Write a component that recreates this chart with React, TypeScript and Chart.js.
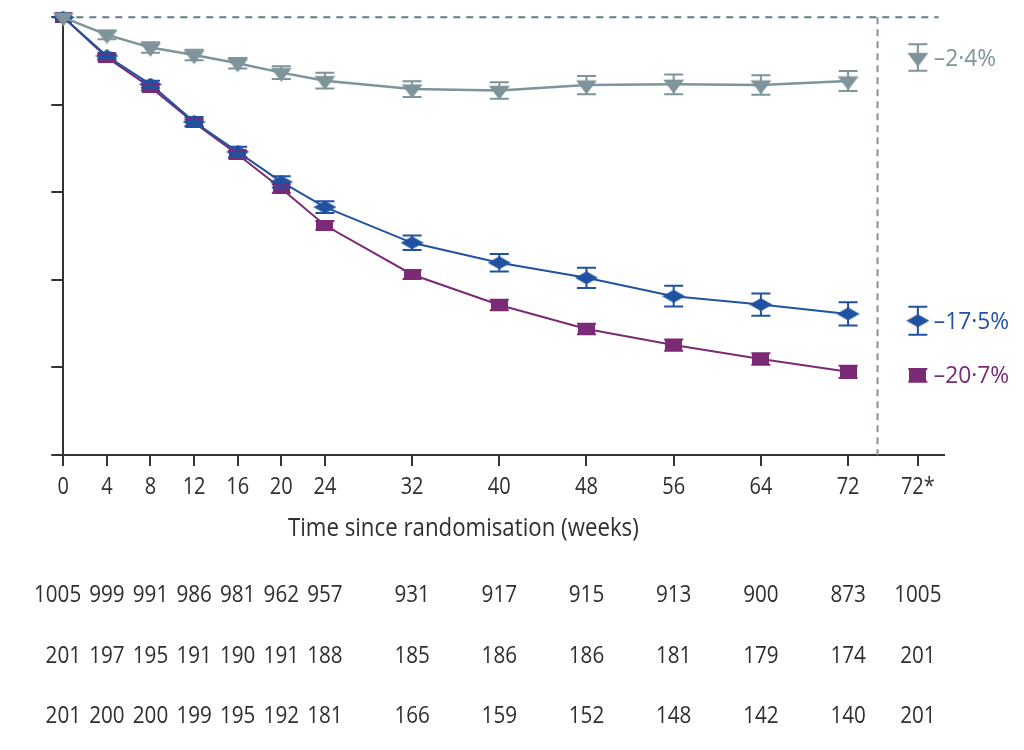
import { useEffect, useRef } from "react";
import { Chart, registerables } from "chart.js";

Chart.register(...registerables);

// ---- data ----
const weeks = [0, 4, 8, 12, 16, 20, 24, 32, 40, 48, 56, 64, 72];
const tickWeeks = [0, 4, 8, 12, 16, 20, 24, 32, 40, 48, 56, 64, 72, 78.4];
const tickLabels = ["0", "4", "8", "12", "16", "20", "24", "32", "40", "48", "56", "64", "72", "72*"];
const endWeek = 78.4;
const cutoffWeek = 74.7;

const placeboValues = [0, -1.0, -1.73, -2.15, -2.62, -3.16, -3.62, -4.1, -4.18, -3.87, -3.83, -3.87, -3.64];
const placeboErrors = [0, 0.25, 0.3, 0.3, 0.3, 0.37, 0.45, 0.45, 0.47, 0.52, 0.56, 0.56, 0.57];
const blueValues = [0, -2.21, -3.83, -5.97, -7.69, -9.4, -10.84, -12.88, -14.02, -14.88, -15.93, -16.41, -16.94];
const blueErrors = [0, 0.15, 0.2, 0.27, 0.29, 0.32, 0.34, 0.41, 0.5, 0.58, 0.59, 0.63, 0.67];
const purpleValues = [0, -2.29, -4.0, -6.02, -7.84, -9.78, -11.88, -14.69, -16.43, -17.8, -18.72, -19.52, -20.25];
const purpleErrors = [0, 0.15, 0.18, 0.2, 0.22, 0.24, 0.25, 0.26, 0.3, 0.3, 0.32, 0.33, 0.35];

const endValues = [-2.3, -17.33, -20.45];
const endErrors = [0.76, 0.8, 0.36];
const endLabels = ["\u20132\u00b74%", "\u201317\u00b75%", "\u201320\u00b77%"];

const atRiskRow1 = [1005, 999, 991, 986, 981, 962, 957, 931, 917, 915, 913, 900, 873, 1005];
const atRiskRow2 = [201, 197, 195, 191, 190, 191, 188, 185, 186, 186, 181, 179, 174, 201];
const atRiskRow3 = [201, 200, 200, 199, 195, 192, 181, 166, 159, 152, 148, 142, 140, 201];

const xTitle = "Time since randomisation (weeks)";
const xTitleCenterWeek = 36.7;

// ---- styles ----
const GRAY = "#7e949a";
const BLUE = "#2152a1";
const PURPLE = "#7b2a76";
const DASH = "#627a83";
const AXIS = "#333333";
const TEXT = "#2f2f2f";
const FONT = "'Open Sans', 'Noto Sans', sans-serif";

function makeCanvas(w: number, h: number) {
  const c = document.createElement("canvas");
  c.width = w;
  c.height = h;
  return c;
}

function triangleImg(color: string) {
  const w = 21, h = 14;
  const H = Math.ceil((4 * h) / 3) + 2;
  const c = makeCanvas(w + 2, H);
  const ctx = c.getContext("2d")!;
  const cy = H / 2;
  ctx.fillStyle = color;
  ctx.beginPath();
  ctx.moveTo(1, cy - h / 3);
  ctx.lineTo(w + 1, cy - h / 3);
  ctx.lineTo(w / 2 + 1, cy + (2 * h) / 3);
  ctx.closePath();
  ctx.fill();
  return c;
}

function diamondImg(color: string) {
  const w = 23, h = 13;
  const c = makeCanvas(w, h);
  const ctx = c.getContext("2d")!;
  ctx.fillStyle = color;
  ctx.beginPath();
  ctx.moveTo(0, h / 2);
  ctx.lineTo(w / 2, 0);
  ctx.lineTo(w, h / 2);
  ctx.lineTo(w / 2, h);
  ctx.closePath();
  ctx.fill();
  return c;
}

function rectImg(color: string) {
  const w = 17, h = 11;
  const c = makeCanvas(w, h);
  const ctx = c.getContext("2d")!;
  ctx.fillStyle = color;
  ctx.fillRect(0, 0, w, h);
  return c;
}

const toPoints = (xs: number[], ys: number[]) => xs.map((x, i) => ({ x, y: ys[i] }));

function setFont(ctx: CanvasRenderingContext2D, size: number) {
  ctx.font = `${size}px ${FONT}`;
}

// draws real text, horizontally condensed to imitate the narrow original typeface
function drawText(
  ctx: CanvasRenderingContext2D,
  text: string,
  x: number,
  baseline: number,
  size: number,
  sx: number,
  align: CanvasTextAlign,
  color: string
) {
  ctx.save();
  ctx.translate(x, baseline);
  ctx.scale(sx, 1);
  setFont(ctx, size);
  ctx.textAlign = align;
  ctx.textBaseline = "alphabetic";
  ctx.fillStyle = color;
  ctx.fillText(text, 0, 0);
  ctx.restore();
}

const errorBarPlugin = {
  id: "errorBars",
  afterDatasetsDraw(chart: any) {
    const { ctx, scales } = chart;
    const xs = scales.x, ys = scales.y;
    ctx.save();
    const ds = chart.data.datasets;
    for (let d = ds.length - 1; d >= 0; d--) {
      const set = ds[d];
      if (!set.errors) continue;
      ctx.strokeStyle = set.borderColor;
      ctx.lineWidth = 2;
      set.data.forEach((p: any, i: number) => {
        const e = set.errors[i];
        if (!e) return;
        const px = xs.getPixelForValue(p.x);
        const top = ys.getPixelForValue(p.y + e);
        const bot = ys.getPixelForValue(p.y - e);
        const cap = 9.5;
        ctx.beginPath();
        ctx.moveTo(px, top);
        ctx.lineTo(px, bot);
        ctx.moveTo(px - cap, top);
        ctx.lineTo(px + cap, top);
        ctx.moveTo(px - cap, bot);
        ctx.lineTo(px + cap, bot);
        ctx.stroke();
      });
    }
    ctx.restore();
  },
};

const textPlugin = {
  id: "extraText",
  afterDraw(chart: any) {
    const { ctx, scales } = chart;
    const xs = scales.x, ys = scales.y;
    // x tick labels
    tickLabels.forEach((t, i) => {
      drawText(ctx, t, xs.getPixelForValue(tickWeeks[i]), 494, 23, 0.87, "center", TEXT);
    });
    // x title
    drawText(ctx, xTitle, xs.getPixelForValue(xTitleCenterWeek), 536, 25, 0.89, "center", TEXT);
    // end labels
    const colors = [GRAY, BLUE, PURPLE];
    endLabels.forEach((t, i) => {
      drawText(ctx, t, xs.getPixelForValue(endWeek) + 16, ys.getPixelForValue(endValues[i]) + 8, 24, 0.95, "left", colors[i]);
    });
    // number at risk: centred under each tick, nudged left only where neighbours would collide
    const rows = [atRiskRow1, atRiskRow2, atRiskRow3];
    const rowBase = [602, 663, 723];
    const size = 24, sx = 0.86, gap = 8;
    rows.forEach((row, r) => {
      ctx.save();
      setFont(ctx, size);
      const widths = row.map((v) => ctx.measureText(String(v)).width * sx);
      ctx.restore();
      const centers = row.map((_, i) => xs.getPixelForValue(tickWeeks[i]));
      for (let i = row.length - 2; i >= 0; i--) {
        const limit = centers[i + 1] - widths[i + 1] / 2 - gap - widths[i] / 2;
        centers[i] = Math.min(centers[i], limit);
      }
      row.forEach((v, i) => {
        drawText(ctx, String(v), centers[i], rowBase[r], size, sx, "center", TEXT);
      });
    });
  },
};

export default function App() {
  const ref = useRef<HTMLCanvasElement | null>(null);
  useEffect(() => {
    document.body.style.margin = "0";
    const canvas = ref.current!;
    const chart = new Chart(canvas, {
      type: "line",
      data: {
        datasets: [
          {
            data: toPoints(weeks, placeboValues),
            errors: placeboErrors,
            borderColor: GRAY,
            backgroundColor: GRAY,
            borderWidth: 2.5,
            pointStyle: triangleImg(GRAY),
            clip: false,
          } as any,
          {
            data: toPoints(weeks, blueValues),
            errors: blueErrors,
            borderColor: BLUE,
            backgroundColor: BLUE,
            borderWidth: 2,
            pointStyle: diamondImg(BLUE),
            clip: false,
          } as any,
          {
            data: toPoints(weeks, purpleValues),
            errors: purpleErrors,
            borderColor: PURPLE,
            backgroundColor: PURPLE,
            borderWidth: 2,
            pointStyle: rectImg(PURPLE),
            clip: false,
          } as any,
          {
            data: [{ x: endWeek, y: endValues[0] }],
            errors: [endErrors[0]],
            borderColor: GRAY,
            showLine: false,
            pointStyle: triangleImg(GRAY),
            clip: false,
          } as any,
          {
            data: [{ x: endWeek, y: endValues[1] }],
            errors: [endErrors[1]],
            borderColor: BLUE,
            showLine: false,
            pointStyle: diamondImg(BLUE),
            clip: false,
          } as any,
          {
            data: [{ x: endWeek, y: endValues[2] }],
            errors: [endErrors[2]],
            borderColor: PURPLE,
            showLine: false,
            pointStyle: rectImg(PURPLE),
            clip: false,
          } as any,
          {
            data: [{ x: 0, y: 0 }, { x: 80.3, y: 0 }],
            borderColor: DASH,
            borderWidth: 2,
            borderDash: [7, 6],
            pointRadius: 0,
            clip: false,
            order: 10,
          } as any,
          {
            data: [{ x: cutoffWeek, y: 0 }, { x: cutoffWeek, y: -25 }],
            borderColor: "#80959c",
            borderWidth: 2,
            borderDash: [7, 5],
            pointRadius: 0,
            clip: false,
            order: 10,
          } as any,
        ],
      },
      options: {
        animation: false,
        responsive: false,
        devicePixelRatio: 1,
        layout: { padding: { left: 0, top: 17.3, right: 80, bottom: 209.8 } },
        plugins: { legend: { display: false }, tooltip: { enabled: false } },
        elements: { line: { tension: 0 } },
        scales: {
          x: {
            type: "linear",
            min: 0,
            max: 80.8,
            afterBuildTicks: (scale: any) => {
              scale.ticks = tickWeeks.map((v) => ({ value: v }));
            },
            afterFit: (scale: any) => {
              scale.height = 85.2;
            },
            ticks: { autoSkip: false, display: false },
            grid: { drawOnChartArea: false, color: AXIS, lineWidth: 2, tickLength: 11 },
            border: { color: AXIS, width: 2 },
          },
          y: {
            type: "linear",
            min: -25,
            max: 0,
            afterFit: (scale: any) => {
              scale.width = 63.3;
            },
            ticks: { stepSize: 5, display: false },
            grid: { drawOnChartArea: false, color: AXIS, lineWidth: 2, tickLength: 12 },
            border: { color: AXIS, width: 2 },
          },
        },
      } as any,
      plugins: [errorBarPlugin, textPlugin],
    });
    return () => chart.destroy();
  }, []);
  return (
    <div style={{ width: 1024, height: 750, background: "#fff" }}>
      <canvas ref={ref} width={1024} height={750} style={{ display: "block" }} />
    </div>
  );
}
